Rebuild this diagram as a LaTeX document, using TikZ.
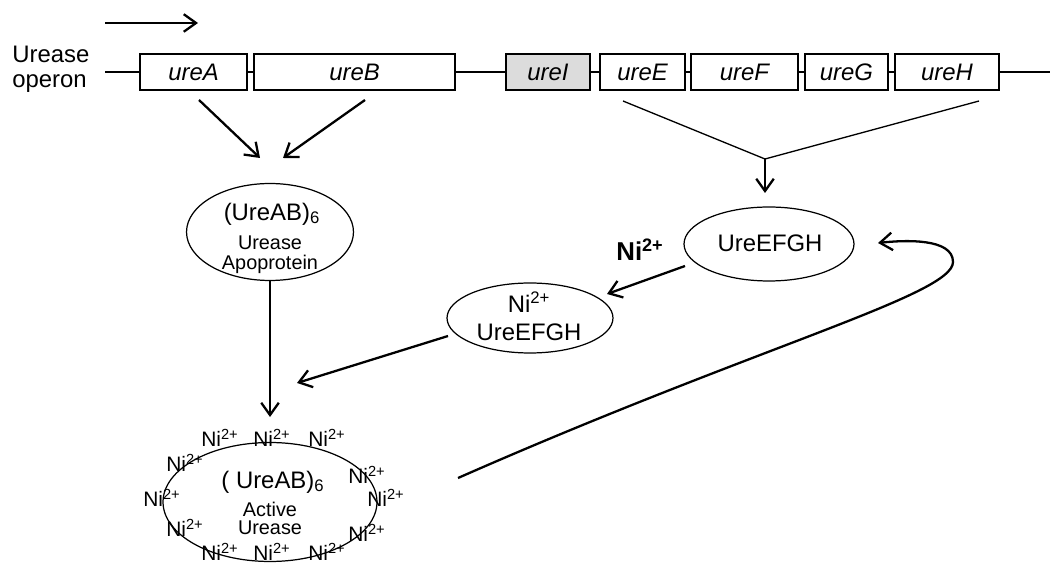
\documentclass[tikz,border=0pt]{standalone}
\usepackage{fontspec}
\setmainfont{Liberation Sans}
\definecolor{ureShade}{HTML}{DCDCDC}
\usetikzlibrary{arrows.meta,shapes.geometric}

\tikzset{
  genebox/.style={draw, line width=0.8pt, minimum height=0.72cm, inner sep=0pt,
    font=\fontsize{13.6}{16}\selectfont\itshape},
  protein/.style={draw, ellipse, line width=0.7pt, inner sep=0pt},
  arr/.style={line width=1.3pt, -{Straight Barb[length=7pt,width=10pt]}},
  thinline/.style={line width=0.75pt},
  bigtext/.style={font=\fontsize{13.6}{16}\selectfont, inner sep=0pt},
  smalltext/.style={font=\fontsize{11.3}{13}\selectfont, inner sep=0pt},
  nilabel/.style={font=\fontsize{11.9}{14}\selectfont, inner sep=0pt},
}

\begin{document}
\begin{tikzpicture}[x=0.02cm, y=-0.02cm]
  \useasboundingbox (0,0) rectangle (1050,563);
  \clip (0,0) rectangle (1050,563);

  \coordinate (dirL) at (105,23);
  \coordinate (dirR) at (198,23);
  \draw[arr] (dirL) -- (dirR);

  \node[bigtext, anchor=base west] (opLabel1) at (12,63) {Urease};
  \node[bigtext, anchor=base west] (opLabel2) at (12,88) {operon};

  \node[genebox, minimum width=2.14cm] (ureA) at (193.5,72) {ureA};
  \node[genebox, minimum width=4.02cm] (ureB) at (354.5,72) {ureB};
  \node[genebox, minimum width=1.68cm, fill=ureShade] (ureI) at (548,72) {ureI};
  \node[genebox, minimum width=1.70cm] (ureE) at (642.5,72) {ureE};
  \node[genebox, minimum width=2.14cm] (ureF) at (744.5,72) {ureF};
  \node[genebox, minimum width=1.66cm] (ureG) at (846.5,72) {ureG};
  \node[genebox, minimum width=2.08cm] (ureH) at (947,72) {ureH};

  \coordinate (opL) at (105,72);
  \coordinate (opR) at (1050,72);
  \draw[thinline] (opL) -- (ureA.west);
  \draw[thinline] (ureA.east) -- (ureB.west);
  \draw[thinline] (ureB.east) -- (ureI.west);
  \draw[thinline] (ureI.east) -- (ureE.west);
  \draw[thinline] (ureE.east) -- (ureF.west);
  \draw[thinline] (ureF.east) -- (ureG.west);
  \draw[thinline] (ureG.east) -- (ureH.west);
  \draw[thinline] (ureH.east) -- (opR);

  \coordinate (abFromA) at (199,100);
  \coordinate (abFromB) at (365,100);
  \coordinate (abToA) at (260,158);
  \coordinate (abToB) at (283,158);
  \draw[arr] (abFromA) -- (abToA);
  \draw[arr] (abFromB) -- (abToB);

  \coordinate (efL) at (623,101);
  \coordinate (efR) at (979,101);
  \coordinate (efJoin) at (765,159);
  \coordinate (efTip) at (765,193);
  \draw[thinline] (efL) -- (efJoin) -- (efR);
  \draw[arr] (efJoin) -- (efTip);

  \node[protein, minimum width=3.34cm, minimum height=1.94cm] (apo) at (270,232) {};
  \node[bigtext] (apoName) at (272,214) {(UreAB)\textsubscript{6}};
  \node[smalltext] (apoLine1) at (270,243) {Urease};
  \node[smalltext] (apoLine2) at (270,264) {Apoprotein};

  \node[protein, minimum width=3.4cm, minimum height=1.48cm] (efgh) at (769,244) {};
  \node[bigtext] (efghName) at (770,243) {UreEFGH};

  \node[font=\fontsize{14.7}{17}\selectfont\bfseries, inner sep=0pt] (niIn) at (640,250) {Ni\textsuperscript{2+}};

  \node[protein, minimum width=3.32cm, minimum height=1.4cm] (niefgh) at (530,318) {};
  \node[bigtext] (niefghIon) at (529,302) {Ni\textsuperscript{2+}};
  \node[bigtext] (niefghName) at (529,332) {UreEFGH};

  \node[protein, minimum width=4.28cm, minimum height=2.38cm] (active) at (270,502) {};
  \node[bigtext] (activeName) at (273,482) {( UreAB)\textsubscript{6}};
  \node[smalltext] (activeLine1) at (270,509) {Active};
  \node[smalltext] (activeLine2) at (270,528) {Urease};
  \foreach \x/\y [count=\i] in {220/438, 272/438, 327/438, 185/463, 162/498, 185/528,
      220/552, 272/552, 327/552, 367/475, 386/498, 367/533}
    \node[nilabel] (ni\i) at (\x,\y) {Ni\textsuperscript{2+}};

  \coordinate (apoTip) at (270,417);
  \draw[arr] (apo.south) -- (apoTip);

  \coordinate (efghFrom) at (685,266);
  \coordinate (efghTip) at (607,294);
  \draw[arr] (efghFrom) -- (efghTip);

  \coordinate (niFrom) at (448,336);
  \coordinate (niTip) at (297,383);
  \draw[arr] (niFrom) -- (niTip);

  \coordinate (loopFrom) at (458,478);
  \coordinate (loopTip) at (878,243);
  \draw[arr] (loopFrom) .. controls (760,345) and (953,295) .. (953,262)
    .. controls (953,238) and (905,240) .. (loopTip);
\end{tikzpicture}
\end{document}
